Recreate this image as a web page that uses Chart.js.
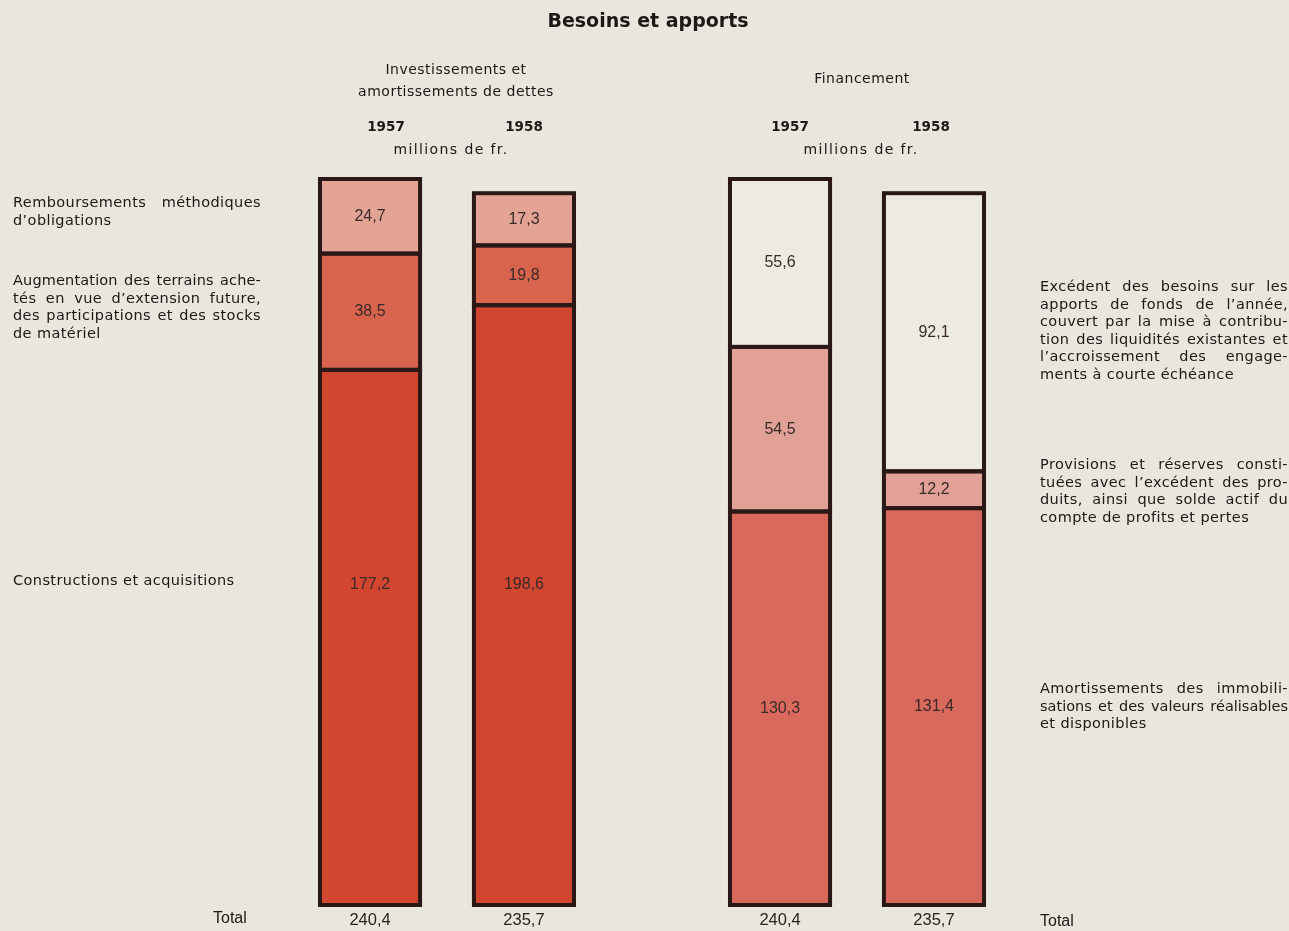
<!DOCTYPE html>
<html>
<head>
<meta charset="utf-8">
<script src="https://cdn.jsdelivr.net/npm/chart.js@4"></script>
<style>
  body { margin: 0; background: #e9e6dd; }
  #wrap { position: relative; width: 1289px; height: 931px; overflow: hidden; font-family: "DejaVu Sans", sans-serif; color: #1c1816; }
  canvas { position: absolute; left: 0; top: 0; }
  .t { position: absolute; white-space: nowrap; }
  .c { transform: translateX(-50%); text-align: center; }
  .txt { font-size: 14px; letter-spacing: 0.5px; }
  .block { position: absolute; width: 248px; font-size: 14.5px; letter-spacing: 0.4px; line-height: 17.6px; }
  .block div { text-align: left; white-space: nowrap; }
  .block div.j { text-align: justify; text-align-last: justify; }
  .yr { font-weight: bold; font-size: 13.5px; }
  .tot { font-family: "Liberation Sans", Arial, sans-serif; font-size: 16px; }
</style>
</head>
<body>
<div id="wrap">
  <canvas id="chart" width="1289" height="931"></canvas>

  <div class="t c" style="left:648px;top:9px;font-size:19px;font-weight:bold;">Besoins et apports</div>

  <div class="t c txt" style="left:456px;top:58px;line-height:22px;">Investissements et<br>amortissements de dettes</div>
  <div class="t c txt" style="left:862px;top:70px;">Financement</div>

  <div class="t c yr" style="left:386px;top:118px;">1957</div>
  <div class="t c yr" style="left:524px;top:118px;">1958</div>
  <div class="t c txt" style="left:451px;top:141px;letter-spacing:1.4px;">millions de fr.</div>
  <div class="t c yr" style="left:790px;top:118px;">1957</div>
  <div class="t c yr" style="left:931px;top:118px;">1958</div>
  <div class="t c txt" style="left:861px;top:141px;letter-spacing:1.4px;">millions de fr.</div>

  <div class="block" style="left:13px;top:194px;">
    <div class="j">Remboursements méthodiques</div>
    <div>d’obligations</div>
  </div>
  <div class="block" style="left:13px;top:272px;">
    <div class="j" style="letter-spacing:0.15px;">Augmentation des terrains ache-</div>
    <div class="j">tés en vue d’extension future,</div>
    <div class="j">des participations et des stocks</div>
    <div>de matériel</div>
  </div>
  <div class="block" style="left:13px;top:572px;">
    <div>Constructions et acquisitions</div>
  </div>

  <div class="block" style="left:1040px;top:278px;">
    <div class="j">Excédent des besoins sur les</div>
    <div class="j">apports de fonds de l’année,</div>
    <div class="j">couvert par la mise à contribu-</div>
    <div class="j">tion des liquidités existantes et</div>
    <div class="j">l’accroissement des engage-</div>
    <div>ments à courte échéance</div>
  </div>
  <div class="block" style="left:1040px;top:456px;">
    <div class="j">Provisions et réserves consti-</div>
    <div class="j">tuées avec l’excédent des pro-</div>
    <div class="j">duits, ainsi que solde actif du</div>
    <div>compte de profits et pertes</div>
  </div>
  <div class="block" style="left:1040px;top:680px;">
    <div class="j">Amortissements des immobili-</div>
    <div class="j" style="letter-spacing:0;">sations et des valeurs réalisables</div>
    <div>et disponibles</div>
  </div>

  <div class="t tot" style="left:213px;top:909px;">Total</div>
  <div class="t tot" style="left:1040px;top:912px;">Total</div>
</div>

<script>
// two groups of bars, each with a 1957 and a 1958 stack
const groups = ['Investissements et amortissements de dettes', 'Financement'];
const years = ['1957', '1958'];

// Investissements (bottom -> top)
const constructions = [177.2, 198.6];
const augmentation = [38.5, 19.8];
const remboursements = [24.7, 17.3];
const totalInvest = [240.4, 235.7];

// Financement (bottom -> top)
const amortissements = [130.3, 131.4];
const provisions = [54.5, 12.2];
const excedent = [55.6, 92.1];
const totalFin = [240.4, 235.7];

const edge = '#2a1816';

// series for each group, bottom first
// labelAt: value on the axis where the figure is printed (otherwise middle of segment)
const series = [
  { group: 0, values: constructions, color: '#d24630', totals: totalInvest, labelAt: 106 },
  { group: 0, values: augmentation, color: '#d8644e' },
  { group: 0, values: remboursements, color: '#e3a496' },
  { group: 1, values: amortissements, color: '#d9695c', totals: totalFin },
  { group: 1, values: provisions, color: '#e2a197' },
  { group: 1, values: excedent, color: '#eceae3' }
];

const datasets = [];
series.forEach(s => {
  years.forEach((yr, i) => {
    const data = groups.map((g, gi) => gi === s.group ? s.values[i] : null);
    datasets.push({
      data: data,
      stack: yr,
      backgroundColor: s.color,
      borderWidth: 0,
      inflateAmount: 0,
      total: s.totals ? s.totals[i] : null,
      labelAt: s.labelAt
    });
  });
});

function fmt(v) {
  return v.toFixed(1).replace('.', ',');
}

// dark frame round every segment, then the figures
const barDecor = {
  id: 'barDecor',
  afterDatasetsDraw(chart) {
    const ctx = chart.ctx;
    const yScale = chart.scales.y;
    ctx.save();
    ctx.strokeStyle = edge;
    ctx.lineWidth = 4;
    chart.data.datasets.forEach((ds, di) => {
      chart.getDatasetMeta(di).data.forEach((bar, j) => {
        if (ds.data[j] == null) return;
        const top = Math.min(bar.y, bar.base);
        const h = Math.abs(bar.base - bar.y);
        ctx.strokeRect(bar.x - bar.width / 2, top, bar.width, h);
      });
    });

    ctx.textAlign = 'center';
    ctx.textBaseline = 'middle';
    chart.data.datasets.forEach((ds, di) => {
      chart.getDatasetMeta(di).data.forEach((bar, j) => {
        const v = ds.data[j];
        if (v == null) return;
        const y = ds.labelAt != null ? yScale.getPixelForValue(ds.labelAt) : (bar.y + bar.base) / 2;
        ctx.font = '16px "Liberation Sans", Arial, sans-serif';
        ctx.fillStyle = '#3a2a28';
        ctx.fillText(fmt(v), bar.x, y);
        if (ds.total != null) {
          ctx.font = '16.5px "Liberation Sans", Arial, sans-serif';
          ctx.fillStyle = '#2a2220';
          ctx.fillText(fmt(ds.total), bar.x, chart.chartArea.bottom + 15);
        }
      });
    });
    ctx.restore();
  }
};

new Chart(document.getElementById('chart'), {
  type: 'bar',
  data: { labels: groups, datasets: datasets },
  options: {
    responsive: false,
    animation: false,
    devicePixelRatio: 1,
    categoryPercentage: 0.751,
    barPercentage: 0.65,
    layout: { padding: { left: 242, right: 227, top: 179, bottom: 26 } },
    scales: {
      x: { display: false, stacked: true },
      y: { display: false, stacked: true, min: 0, max: Math.max(...totalInvest, ...totalFin) }
    },
    plugins: {
      legend: { display: false },
      tooltip: { enabled: false }
    }
  },
  plugins: [barDecor]
});
</script>
</body>
</html>
